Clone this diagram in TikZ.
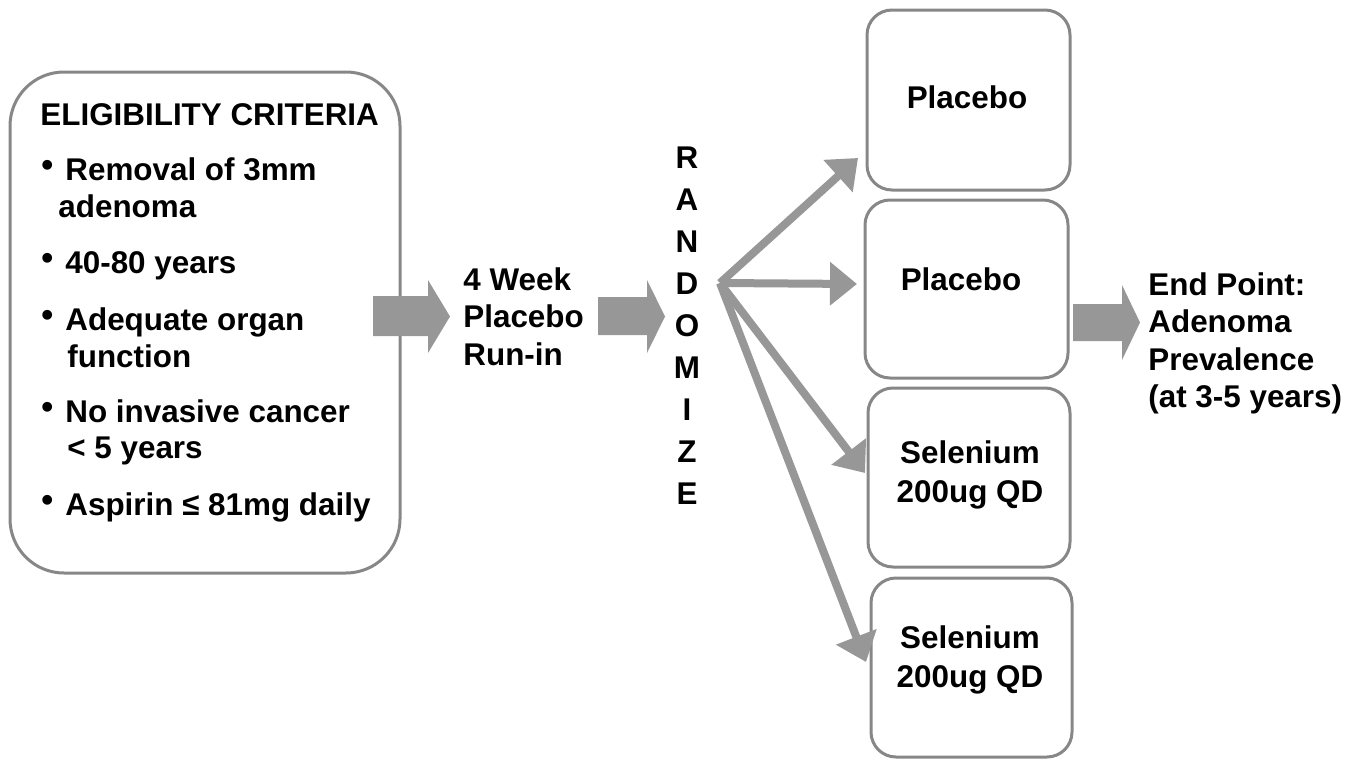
\documentclass[tikz,border=0pt]{standalone}
\usepackage{fontspec}
\setmainfont{Liberation Sans}
\usetikzlibrary{arrows.meta}
\definecolor{boxgray}{HTML}{878787}
\definecolor{arrgray}{HTML}{979797}
\begin{document}
\begin{tikzpicture}[x=0.5pt,y=-0.5pt,
  txt/.style={inner sep=0pt, font=\fontsize{15.7}{18.75}\selectfont\bfseries},
  lt/.style={txt, anchor=base west},
  ct/.style={txt, anchor=base},
  bul/.style={inner sep=0pt, anchor=base west, font=\fontsize{17}{18}\selectfont\bfseries},
  bx/.style={draw=boxgray, line width=1.5pt, rounded corners=12.5pt, inner sep=0pt},
  thinarrow/.style={draw=arrgray, line width=4pt, -{Triangle[length=13.5pt,width=21pt]}},
  blockarrow/.style={fill=arrgray, draw=none}]
\useasboundingbox (0,0) rectangle (1361,760);

% eligibility box
\node[bx, rounded corners=27pt, minimum width=195pt, minimum height=250.5pt] (elig) at (205,322.5) {};
\node[lt] (eh) at (40,125) {ELIGIBILITY CRITERIA};
\node[bul] (b1) at (41,176) {•};
\node[lt] (e1a) at (65,180) {Removal of 3mm};
\node[lt] (e1b) at (58,217) {adenoma};
\node[bul] (b2) at (41,269) {•};
\node[lt] (e2) at (65,273) {40-80 years};
\node[bul] (b3) at (41,326) {•};
\node[lt] (e3a) at (65,330) {Adequate organ};
\node[lt] (e3b) at (67,367) {function};
\node[bul] (b4) at (41,418) {•};
\node[lt] (e4a) at (65,422) {No invasive cancer};
\node[lt] (e4b) at (67,458) {< 5 years};
\node[bul] (b5) at (41,511) {•};
\node[lt] (e5) at (65,515) {Aspirin ≤ 81mg daily};

% block arrow 1
\fill[blockarrow] (373,296) -- (428,296) -- (428,280) -- (450,316.5) -- (428,353) -- (428,336) -- (373,336) -- cycle;

% run-in
\node[lt] (w1) at (463,290) {4 Week};
\node[lt] (w2) at (463,327) {Placebo};
\node[lt] (w3) at (463,365) {Run-in};

% block arrow 2
\fill[blockarrow] (598,297) -- (647,297) -- (647,280) -- (665,316.5) -- (647,353) -- (647,335) -- (598,335) -- cycle;

% RANDOMIZE
\foreach \l [count=\i] in {R,A,N,D,O,M,I,Z,E}{
  \node[ct] (r\i) at (687,{168+42.1*(\i-1)}) {\l};
}

% arms
\node[bx, minimum width=101.5pt, minimum height=90pt] (p1) at (968.5,100) {};
\node[ct] (p1t) at (967,108) {Placebo};
\node[bx, minimum width=101.5pt, minimum height=89pt] (p2) at (966.5,289) {};
\node[ct] (p2t) at (961,290) {Placebo};
\node[bx, minimum width=101pt, minimum height=89.5pt] (s1) at (969,477.5) {};
\node[ct] (s1a) at (970,463) {Selenium};
\node[ct] (s1b) at (970,502) {200ug QD};
\node[bx, minimum width=100.5pt, minimum height=89.5pt] (s2) at (971.5,667.5) {};
\node[ct] (s2a) at (970,648) {Selenium};
\node[ct] (s2b) at (970,687) {200ug QD};

% randomization arrows
\coordinate (rs) at (720,283);
\coordinate (t1) at (858,158);
\coordinate (t2) at (857,284);
\coordinate (t3) at (865,473);
\coordinate (t4) at (866,662);
\draw[thinarrow] (rs) -- (t1);
\draw[thinarrow] (rs) -- (t2);
\draw[thinarrow] (rs) -- (t3);
\draw[thinarrow] (rs) -- (t4);

% block arrow 3
\fill[blockarrow] (1073,304) -- (1122,304) -- (1122,285) -- (1140,322.5) -- (1122,360) -- (1122,341) -- (1073,341) -- cycle;

% end point
\node[lt] (n1) at (1148,295) {End Point:};
\node[lt] (n2) at (1148,332) {Adenoma};
\node[lt] (n3) at (1148,370) {Prevalence};
\node[lt] (n4) at (1148,407) {(at 3-5 years)};
\end{tikzpicture}
\end{document}
